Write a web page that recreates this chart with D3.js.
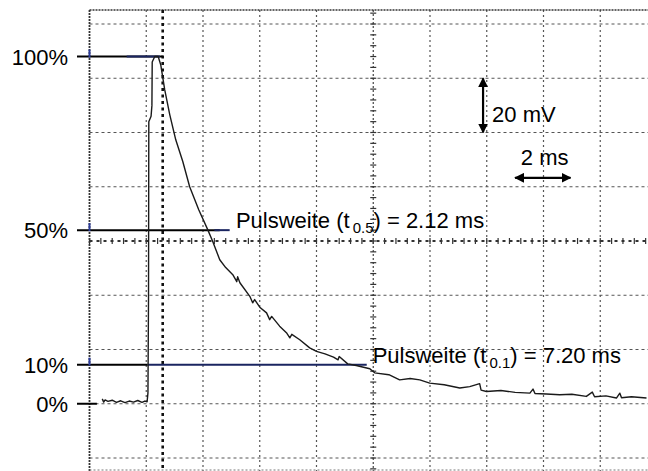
<!DOCTYPE html>
<html>
<head>
<meta charset="utf-8">
<script src="https://cdn.jsdelivr.net/npm/d3@7"></script>
<style>
  body { margin: 0; background: #fff; }
  svg { display: block; }
  text { font-family: Arial, "Liberation Sans", sans-serif; fill: #000; }
</style>
</head>
<body>
<script>
// trace: time in ms (0 = rising edge), voltage in mV
const traceT = [-1.55, -1.5, -1.45, -1.35, -1.2, -1.05, -0.9, -0.75, -0.6, -0.45, -0.3, -0.15, -0.05, 0.03,
  0.06, 0.08, 0.09, 0.17, 0.2, 0.21, 0.3, 0.42, 0.51, 0.65, 0.83, 1.04, 1.29, 1.53, 1.85, 2.17, 2.34,
  2.59, 2.8, 3.05, 3.19, 3.22, 3.3, 3.65, 3.75, 3.82, 4.0, 4.24, 4.35, 4.42, 4.7, 4.94, 5.06, 5.13, 5.41,
  5.76, 6.0, 6.3, 6.6, 6.76, 6.8, 7.1, 7.4, 7.88, 8.05, 8.55, 8.93, 9.3, 9.64, 9.99, 10.5, 11.05, 11.4,
  11.75, 11.8, 11.99, 12.5, 13.0, 13.52, 13.63, 13.7, 14.1, 14.57, 15.0, 15.51, 15.72, 15.8, 16.2, 16.57,
  16.69, 16.75, 17.1, 17.63]
const traceV = [1.8, 0.6, 1.4, 0.9, 1.3, 0.5, 1.1, 0.4, 1.0, 0.6, 1.2, 0.5, 1.0, 0.7,
  4, 40, 104, 106, 110, 126, 128, 128, 125, 115.8, 106.5, 97.3, 89.2, 80.0, 71.5, 64.1, 59.9,
  53.1, 50.2, 47.6, 45.0, 46.8, 44.6, 39.6, 37.2, 38.4, 35.6, 33.5, 31.0, 32.2, 28.6, 26.2, 24.3, 25.6, 23.6,
  20.6, 19.3, 18.4, 17.2, 16.2, 17.4, 14.7, 14.1, 12.9, 11.4, 10.7, 8.8, 9.3, 8.8, 7.6, 7.0, 5.8, 6.3,
  7.4, 5.0, 4.5, 4.9, 4.2, 3.9, 5.4, 3.8, 3.6, 3.3, 3.5, 2.7, 4.3, 2.6, 2.9, 2.1,
  3.9, 2.2, 2.6, 2.1]

// marker levels (mV) and their labels
const levelLabels = ["100%", "50%", "10%", "0%"]
const levelValues = [128, 64, 14.4, 0]
const levelEnd = [0.58, 2.59, 0.05, -1.74]      // end of black line, ms
const blueStart = [-0.69, 2.4, 0.05, null]
const blueEnd = [0.48, 2.94, 7.77, null]

const pulseNames = ["0.5", "0.1"]
const pulseValues = ["2.12 ms", "7.20 ms"]
const pulseLevel = [64, 14.4]
const pulseAt = [3.16, 7.98]

// grid: 2 ms / div, 20 mV / div
const timeTicks = d3.range(-2, 19, 2)
const voltTicks = d3.range(-20, 141, 20)
const triggerT = 0.58

const width = 648, height = 471

const x = d3.scaleLinear().domain([-2, 18]).range([89.5, 657]);
const y = d3.scaleLinear().domain([-20, 140]).range([458, 24]);

const svg = d3.select("body").append("svg")
    .attr("width", width)
    .attr("height", height)

const grid = svg.append("g")

// horizontal grid lines
grid.selectAll(".hg")
    .data(voltTicks.filter(v => v != 60))
    .enter().append("line")
    .attr("x1", x(-2)).attr("x2", width)
    .attr("y1", d => y(d)).attr("y2", d => y(d))
    .attr("stroke", "#555")
    .attr("stroke-width", 1)
    .attr("stroke-dasharray", "3,3")

// vertical grid lines
grid.selectAll(".vg")
    .data(timeTicks.filter(t => t > -2 && t != 8))
    .enter().append("line")
    .attr("x1", d => x(d)).attr("x2", d => x(d))
    .attr("y1", 10).attr("y2", height)
    .attr("stroke", "#555")
    .attr("stroke-width", 1.2)
    .attr("stroke-dasharray", "2,3")

// center lines with minor ticks
grid.append("line")
    .attr("x1", x(-2)).attr("x2", width)
    .attr("y1", y(60)).attr("y2", y(60))
    .attr("stroke", "#333").attr("stroke-width", 2.2)
    .attr("stroke-dasharray", "3,4")
grid.selectAll(".ht")
    .data(d3.range(-2, 18.01, 0.4))
    .enter().append("line")
    .attr("x1", d => x(d)).attr("x2", d => x(d))
    .attr("y1", y(60) - 3).attr("y2", y(60) + 3)
    .attr("stroke", "#333").attr("stroke-width", 1.2)

grid.append("line")
    .attr("x1", x(8)).attr("x2", x(8))
    .attr("y1", 10).attr("y2", height)
    .attr("stroke", "#444").attr("stroke-width", 1.2)
    .attr("stroke-dasharray", "2,2")
grid.selectAll(".vt")
    .data(d3.range(-24, 146, 4))
    .enter().append("line")
    .attr("x1", x(8) - 3).attr("x2", x(8) + 3)
    .attr("y1", d => y(d)).attr("y2", d => y(d))
    .attr("stroke", "#333").attr("stroke-width", 1.2)

// frame
grid.append("line")
    .attr("x1", x(-2)).attr("x2", width)
    .attr("y1", 10).attr("y2", 10)
    .attr("stroke", "#333").attr("stroke-width", 1.6)
    .attr("stroke-dasharray", "2,1")
grid.append("line")
    .attr("x1", x(-2)).attr("x2", x(-2))
    .attr("y1", 10).attr("y2", height)
    .attr("stroke", "#333").attr("stroke-width", 1.8)
    .attr("stroke-dasharray", "2,1")
grid.append("line")
    .attr("x1", x(-2)).attr("x2", width)
    .attr("y1", 470).attr("y2", 470)
    .attr("stroke", "#777").attr("stroke-width", 1)
    .attr("stroke-dasharray", "2,2")

// trigger marker
svg.append("line")
    .attr("x1", x(triggerT)).attr("x2", x(triggerT))
    .attr("y1", 10).attr("y2", height)
    .attr("stroke", "#111").attr("stroke-width", 2.6)
    .attr("stroke-dasharray", "3,3.5")

// level lines
const levels = svg.append("g")
levels.selectAll(".lvl")
    .data(levelValues)
    .enter().append("line")
    .attr("x1", 77).attr("x2", (d, i) => x(levelEnd[i]))
    .attr("y1", d => y(d)).attr("y2", d => y(d))
    .attr("stroke", "#000").attr("stroke-width", 2)
levels.selectAll(".blu")
    .data(levelValues.filter((d, i) => blueStart[i] != null))
    .enter().append("line")
    .attr("x1", (d, i) => x(blueStart[i])).attr("x2", (d, i) => x(blueEnd[i]))
    .attr("y1", d => y(d)).attr("y2", d => y(d))
    .attr("stroke", "#1a2560").attr("stroke-width", 2)
levels.selectAll(".bm")
    .data(levelValues.slice(0, 3))
    .enter().append("line")
    .attr("x1", x(-2)).attr("x2", x(-2))
    .attr("y1", d => y(d) - 7).attr("y2", d => y(d) + 1)
    .attr("stroke", "#2a3a9a").attr("stroke-width", 2)

levels.selectAll(".lbl")
    .data(levelLabels)
    .enter().append("text")
    .attr("x", 68)
    .attr("y", (d, i) => y(levelValues[i]) + 8)
    .attr("text-anchor", "end")
    .attr("font-size", 22)
    .text(d => d)

// pulse width labels
pulseNames.forEach((n, i) => {
    const t = svg.append("text")
        .attr("x", x(pulseAt[i]))
        .attr("y", y(pulseLevel[i]) - 2)
        .attr("font-size", 22)
    t.append("tspan").text("Pulsweite (t")
    t.append("tspan").attr("dx", 3).attr("dy", 5).attr("font-size", 15).text(n)
    t.append("tspan").attr("dy", -5).text(") = " + pulseValues[i])
})

// trace
const line = d3.line()
    .x(d => x(d[0]))
    .y(d => y(d[1]))
svg.append("path")
    .datum(d3.zip(traceT, traceV))
    .attr("d", line)
    .attr("fill", "none")
    .attr("stroke", "#1a1a1a")
    .attr("stroke-width", 1.4)
    .attr("stroke-linejoin", "round")

// scale indicators
svg.append("defs").append("marker")
    .attr("id", "ah")
    .attr("viewBox", "0 0 10 10")
    .attr("refX", 9).attr("refY", 5)
    .attr("markerWidth", 4.5).attr("markerHeight", 4.5)
    .attr("orient", "auto-start-reverse")
    .append("path").attr("d", "M0,0L10,5L0,10z").attr("fill", "#000")

svg.append("line")
    .attr("x1", x(11.87)).attr("x2", x(11.87))
    .attr("y1", y(120)).attr("y2", y(100))
    .attr("stroke", "#000").attr("stroke-width", 2.2)
    .attr("marker-start", "url(#ah)").attr("marker-end", "url(#ah)")
svg.append("text")
    .attr("x", x(11.87) + 9).attr("y", y(104))
    .attr("font-size", 22)
    .text("20 mV")

svg.append("line")
    .attr("x1", x(13.0)).attr("x2", x(14.95))
    .attr("y1", y(83.3)).attr("y2", y(83.3))
    .attr("stroke", "#000").attr("stroke-width", 2.2)
    .attr("marker-start", "url(#ah)").attr("marker-end", "url(#ah)")
svg.append("text")
    .attr("x", x(13.2)).attr("y", y(88.2))
    .attr("font-size", 22)
    .text("2 ms")
</script>
</body>
</html>
